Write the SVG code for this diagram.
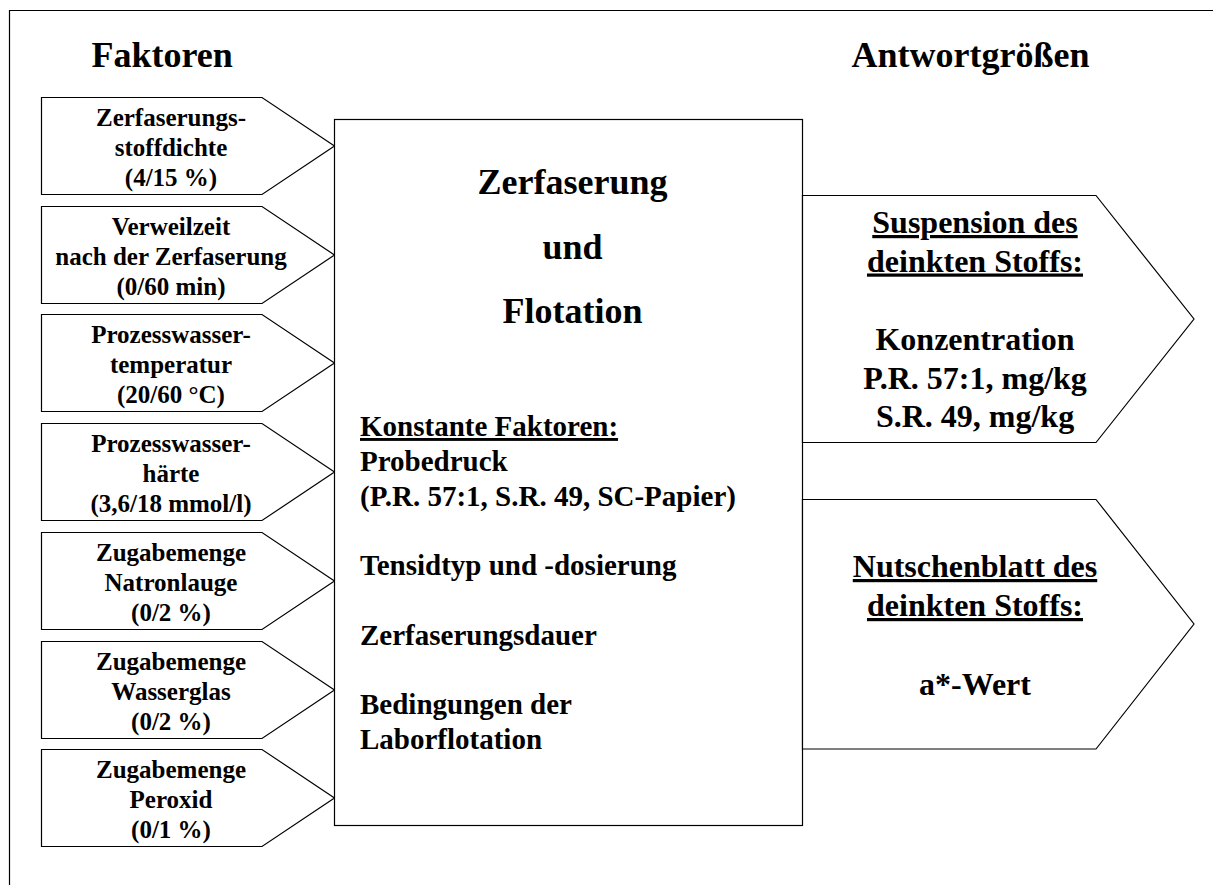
<svg xmlns="http://www.w3.org/2000/svg" width="1213" height="885" viewBox="0 0 1213 885">
<style>
.shape{fill:#fff;stroke:#000;stroke-width:1.2}
text{font-family:"Liberation Serif","Times New Roman",serif;font-weight:bold;fill:#000}
.head{font-size:36px}
.f{font-size:25px;text-anchor:middle}
.title{font-size:36px;text-anchor:middle}
.c{font-size:29px}
.r{font-size:32px;text-anchor:middle}
.u{text-decoration:underline}
</style>
<rect width="1213" height="885" fill="#fff"/>
<path d="M9.5,885 V10.5 H1213" fill="none" stroke="#000" stroke-width="1.2"/>
<g id="headings">
<text class="head" x="91.5" y="66.5">Faktoren</text>
<text class="head" x="851.5" y="66.5">Antwortgrößen</text>
</g>
<g id="connectors"></g>
<g id="f1">
<polygon class="shape" points="41.5,97.5 262,97.5 334.5,146 262,194.5 41.5,194.5"/>
<text class="f" x="171" y="125.5">Zerfaserungs-</text>
<text class="f" x="171" y="155.5">stoffdichte</text>
<text class="f" x="171" y="185.5">(4/15 %)</text>
</g>
<g id="f2">
<polygon class="shape" points="41.5,206.5 262,206.5 334.5,255 262,303.5 41.5,303.5"/>
<text class="f" x="171" y="234.5">Verweilzeit</text>
<text class="f" x="171" y="264.5">nach der Zerfaserung</text>
<text class="f" x="171" y="294.5">(0/60 min)</text>
</g>
<g id="f3">
<polygon class="shape" points="41.5,314.5 262,314.5 334.5,363 262,411.5 41.5,411.5"/>
<text class="f" x="171" y="342.5">Prozesswasser-</text>
<text class="f" x="171" y="372.5">temperatur</text>
<text class="f" x="171" y="402.5">(20/60 °C)</text>
</g>
<g id="f4">
<polygon class="shape" points="41.5,423.5 262,423.5 334.5,472 262,520.5 41.5,520.5"/>
<text class="f" x="171" y="451.5">Prozesswasser-</text>
<text class="f" x="171" y="481.5">härte</text>
<text class="f" x="171" y="511.5">(3,6/18 mmol/l)</text>
</g>
<g id="f5">
<polygon class="shape" points="41.5,532.5 262,532.5 334.5,581 262,629.5 41.5,629.5"/>
<text class="f" x="171" y="560.5">Zugabemenge</text>
<text class="f" x="171" y="590.5">Natronlauge</text>
<text class="f" x="171" y="620.5">(0/2 %)</text>
</g>
<g id="f6">
<polygon class="shape" points="41.5,641.5 262,641.5 334.5,690 262,738.5 41.5,738.5"/>
<text class="f" x="171" y="669.5">Zugabemenge</text>
<text class="f" x="171" y="699.5">Wasserglas</text>
<text class="f" x="171" y="729.5">(0/2 %)</text>
</g>
<g id="f7">
<polygon class="shape" points="41.5,749.5 262,749.5 334.5,798 262,846.5 41.5,846.5"/>
<text class="f" x="171" y="777.5">Zugabemenge</text>
<text class="f" x="171" y="807.5">Peroxid</text>
<text class="f" x="171" y="837.5">(0/1 %)</text>
</g>
<g id="process">
<rect class="shape" x="334.5" y="119.5" width="468" height="706"/>
<text class="title" x="572.5" y="193.5">Zerfaserung</text>
<text class="title" x="572.5" y="258.5">und</text>
<text class="title" x="572.5" y="322.5">Flotation</text>
<text class="c u" x="360" y="436">Konstante Faktoren:</text>
<text class="c" x="360" y="470.75">Probedruck</text>
<text class="c" x="360" y="505.5">(P.R. 57:1, S.R. 49, SC-Papier)</text>
<text class="c" x="360" y="575">Tensidtyp und -dosierung</text>
<text class="c" x="360" y="644.5">Zerfaserungsdauer</text>
<text class="c" x="360" y="714">Bedingungen der</text>
<text class="c" x="360" y="748.75">Laborflotation</text>
</g>
<g id="r1">
<polygon class="shape" points="802.5,195.5 1096,195.5 1194,319 1096,442.5 802.5,442.5"/>
<text class="r u" x="975" y="233">Suspension des</text>
<text class="r u" x="975" y="271.5">deinkten Stoffs:</text>
<text class="r" x="975" y="350">Konzentration</text>
<text class="r" x="975" y="388.5">P.R. 57:1, mg/kg</text>
<text class="r" x="975" y="427">S.R. 49, mg/kg</text>
</g>
<g id="r2">
<polygon class="shape" points="802.5,499.5 1096,499.5 1194,624 1096,749 802.5,749"/>
<text class="r u" x="975" y="577">Nutschenblatt des</text>
<text class="r u" x="975" y="616">deinkten Stoffs:</text>
<text class="r" x="975" y="694.5">a*-Wert</text>
</g>
</svg>
